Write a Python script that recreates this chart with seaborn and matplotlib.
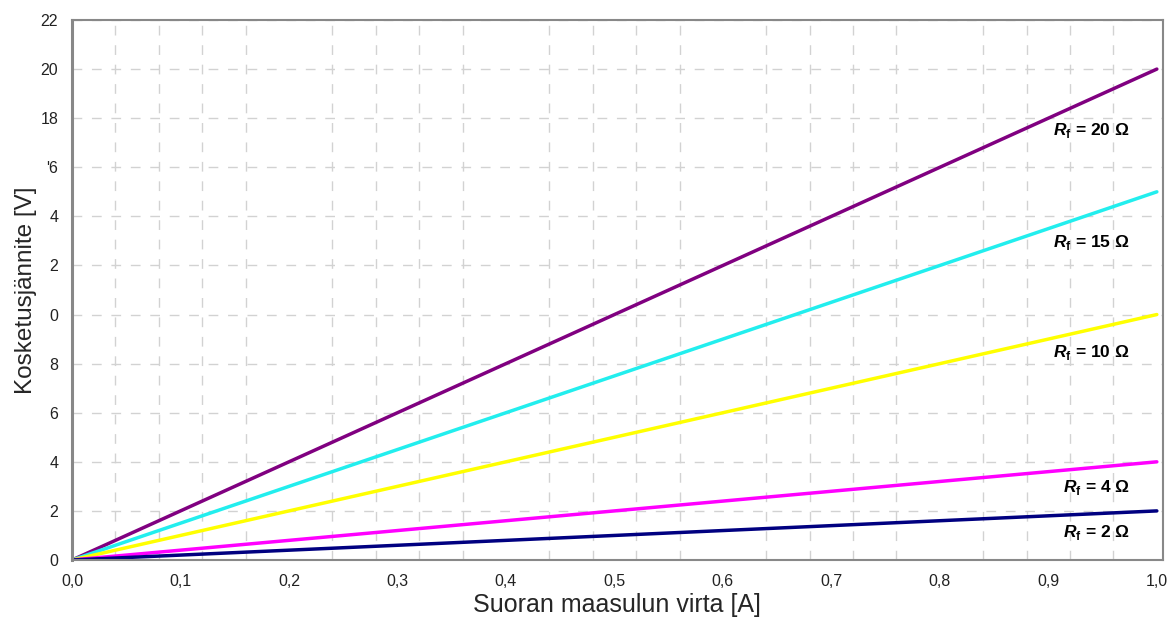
import numpy as np
import pandas as pd
import matplotlib
matplotlib.use("Agg")
import matplotlib.pyplot as plt
import matplotlib.ticker as mticker
import seaborn as sns

sns.set_style("white")
plt.rcParams['font.family'] = ['Liberation Sans', 'DejaVu Sans']
plt.rcParams['mathtext.fontset'] = 'custom'
plt.rcParams['mathtext.rm'] = 'Liberation Sans'
plt.rcParams['mathtext.bf'] = 'Liberation Sans:bold'
plt.rcParams['mathtext.bfit'] = 'Liberation Sans:bold:italic'

# --------------------------- data ---------------------------
current = [0.0, 1.0]                 # A
resistances = [20, 15, 10, 4, 2]     # ohm
v_r20 = [0.0, 20.0]
v_r15 = [0.0, 15.0]
v_r10 = [0.0, 10.0]
v_r4 = [0.0, 4.0]
v_r2 = [0.0, 2.0]
line_colors = ['#800080', '#22EEEE', '#FFFF00', '#FF00FF', '#000080']

x_tick_values = [0.0, 0.1, 0.2, 0.3, 0.4, 0.5, 0.6, 0.7, 0.8, 0.9, 1.0]
x_tick_labels = ["0,0", "0,1", "0,2", "0,3", "0,4", "0,5", "0,6", "0,7", "0,8", "0,9", "1,0"]
y_tick_values = [0, 2, 4, 6, 8, 10, 12, 14, 16, 18, 20, 22]
y_tick_labels = ["0", "2", "4", "6", "8", "0", "2", "4", "'6", "18", "20", "22"]

# label anchor (right edge x, y) per resistance
label_x = [0.975, 0.975, 0.975, 0.975, 0.975]
label_y = [17.5, 12.95, 8.45, 2.95, 1.1]

df = pd.DataFrame({
    "I": current * 5,
    "U": v_r20 + v_r15 + v_r10 + v_r4 + v_r2,
    "R": [r for r in resistances for _ in current],
})

fig = plt.figure(figsize=(11.71, 6.29), dpi=100)
ax = fig.add_axes([0.0615, 0.1097, 0.9315, 0.8585])

sns.lineplot(data=df, x="I", y="U", hue="R", hue_order=resistances,
             palette=line_colors, linewidth=2.5, legend=False, ax=ax)

for r, lx, ly in zip(resistances, label_x, label_y):
    ax.text(lx, ly, r"$\mathbfit{R}_{\mathbf{f}}$ = " + f"{r} Ω", ha='right', va='center',
            fontsize=12.5, fontweight='bold', color='black')

ax.set_xlim(0, 1.0055)
ax.set_ylim(0, 22)

ax.xaxis.set_major_locator(mticker.FixedLocator(x_tick_values))
ax.xaxis.set_major_formatter(mticker.FixedFormatter(x_tick_labels))
ax.xaxis.set_minor_locator(mticker.MultipleLocator(0.04))
ax.yaxis.set_major_locator(mticker.FixedLocator(y_tick_values))
ax.yaxis.set_major_formatter(mticker.FixedFormatter(y_tick_labels))

ax.tick_params(axis='x', which='major', length=0, labelsize=11.5, pad=10, colors='#222222')
ax.tick_params(axis='x', which='minor', length=5, width=1, color='#888888', direction='out')
ax.tick_params(axis='y', which='major', length=5, width=1, color='#888888', direction='out',
               labelsize=11.5, labelcolor='#222222', pad=5)

ax.grid(False)
ax.xaxis.grid(True, which='minor', color='#D2D2D2', linestyle=(0, (7, 7)), linewidth=1)
ax.yaxis.grid(True, which='major', color='#D2D2D2', linestyle=(0, (7, 7)), linewidth=1)
ax.set_axisbelow(True)

for name, spine in ax.spines.items():
    spine.set_visible(True)
    spine.set_edgecolor('#888888')
    spine.set_linewidth(1.5)
ax.spines['left'].set_linewidth(2.2)

ax.set_xlabel("Suoran maasulun virta [A]", fontsize=18, labelpad=3)
ax.set_ylabel("Kosketusjännite [V]", fontsize=17.5, labelpad=2)

fig.savefig("out.png", dpi=100)
